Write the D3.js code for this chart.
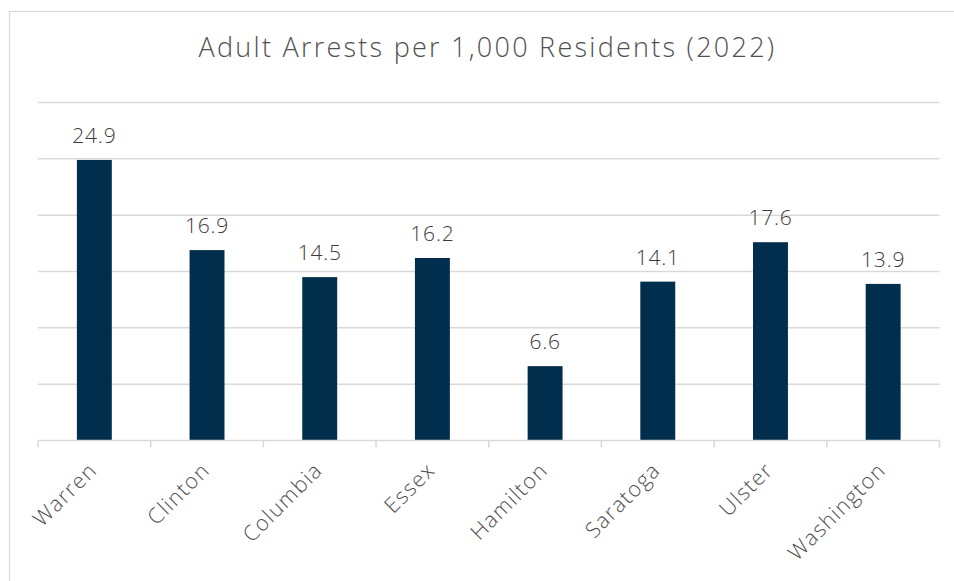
<!DOCTYPE html>
<html>
<head>
<meta charset="utf-8">
<script src="https://cdn.jsdelivr.net/npm/d3@7"></script>
<style>
  html, body { margin: 0; padding: 0; background: #fff; }
  svg { display: block; }
</style>
</head>
<body>
<svg id="chart" width="954" height="581"></svg>
<script>
const categories = ["Warren", "Clinton", "Columbia", "Essex", "Hamilton", "Saratoga", "Ulster", "Washington"];
const values = [24.9, 16.9, 14.5, 16.2, 6.6, 14.1, 17.6, 13.9];
const yTicks = [0, 5, 10, 15, 20, 25, 30];
const title = "Adult Arrests per 1,000 Residents (2022)";

(function () {
const svg = d3.select("#chart");
const mLeft = 38, mRight = 939.5, mTop = 102.5, mBottom = 440.5;
const font = "'Open Sans', sans-serif";

// outer border
svg.append("rect")
  .attr("x", 9.5).attr("y", 11.5)
  .attr("width", 1200).attr("height", 1200)
  .attr("fill", "none").attr("stroke", "#d9d9d9").attr("stroke-width", 1.2);

const x = d3.scaleBand().domain(categories).range([mLeft, mRight]).paddingInner(0.69).paddingOuter(0.345);
const y = d3.scaleLinear().domain([0, 30]).range([mBottom, mTop]);

// gridlines
svg.append("g")
  .selectAll("line")
  .data(yTicks.filter(d => d > 0))
  .join("line")
  .attr("x1", mLeft).attr("x2", mRight)
  .attr("y1", d => y(d)).attr("y2", d => y(d))
  .attr("stroke", "#d9d9d9").attr("stroke-width", 1.5);

// bars
svg.append("g")
  .selectAll("rect")
  .data(values)
  .join("rect")
  .attr("x", (d, i) => x(categories[i]))
  .attr("width", x.bandwidth())
  .attr("y", d => y(d))
  .attr("height", d => y(0) - y(d))
  .attr("fill", "#012e4d");

// value labels
svg.append("g")
  .selectAll("text")
  .data(values)
  .join("text")
  .attr("x", (d, i) => x(categories[i]) + x.bandwidth() / 2)
  .attr("y", d => y(d) - 17)
  .attr("text-anchor", "middle")
  .attr("font-family", font)
  .attr("font-weight", 300)
  .attr("font-size", 21)
  .attr("letter-spacing", 0.8)
  .attr("fill", "#3a3a3a")
  .text(d => d.toFixed(1));

// x axis
const xb = d3.scaleLinear().domain([0, categories.length]).range([mLeft, mRight]);
const axis = svg.append("g");
axis.append("line")
  .attr("x1", mLeft).attr("x2", mRight)
  .attr("y1", mBottom).attr("y2", mBottom)
  .attr("stroke", "#d9d9d9").attr("stroke-width", 1.5);
axis.selectAll("line.tick")
  .data(d3.range(categories.length + 1))
  .join("line")
  .attr("class", "tick")
  .attr("x1", d => xb(d)).attr("x2", d => xb(d))
  .attr("y1", mBottom).attr("y2", mBottom + 7)
  .attr("stroke", "#d9d9d9").attr("stroke-width", 1.5);

axis.selectAll("text")
  .data(categories)
  .join("text")
  .attr("transform", d => `translate(${x(d) + x.bandwidth() / 2 + 4},${mBottom + 31}) rotate(-45)`)
  .attr("text-anchor", "end")
  .attr("font-family", font)
  .attr("font-weight", 300)
  .attr("font-size", 21.5)
  .attr("letter-spacing", 1.3)
  .attr("fill", "#505050")
  .text(d => d);

// title
svg.append("text")
  .attr("x", 487.5).attr("y", 57)
  .attr("text-anchor", "middle")
  .attr("font-family", font)
  .attr("font-weight", 300)
  .attr("font-size", 27)
  .attr("letter-spacing", 2.25)
  .attr("fill", "#505050")
  .text(title);
})();
</script>
</body>
</html>
